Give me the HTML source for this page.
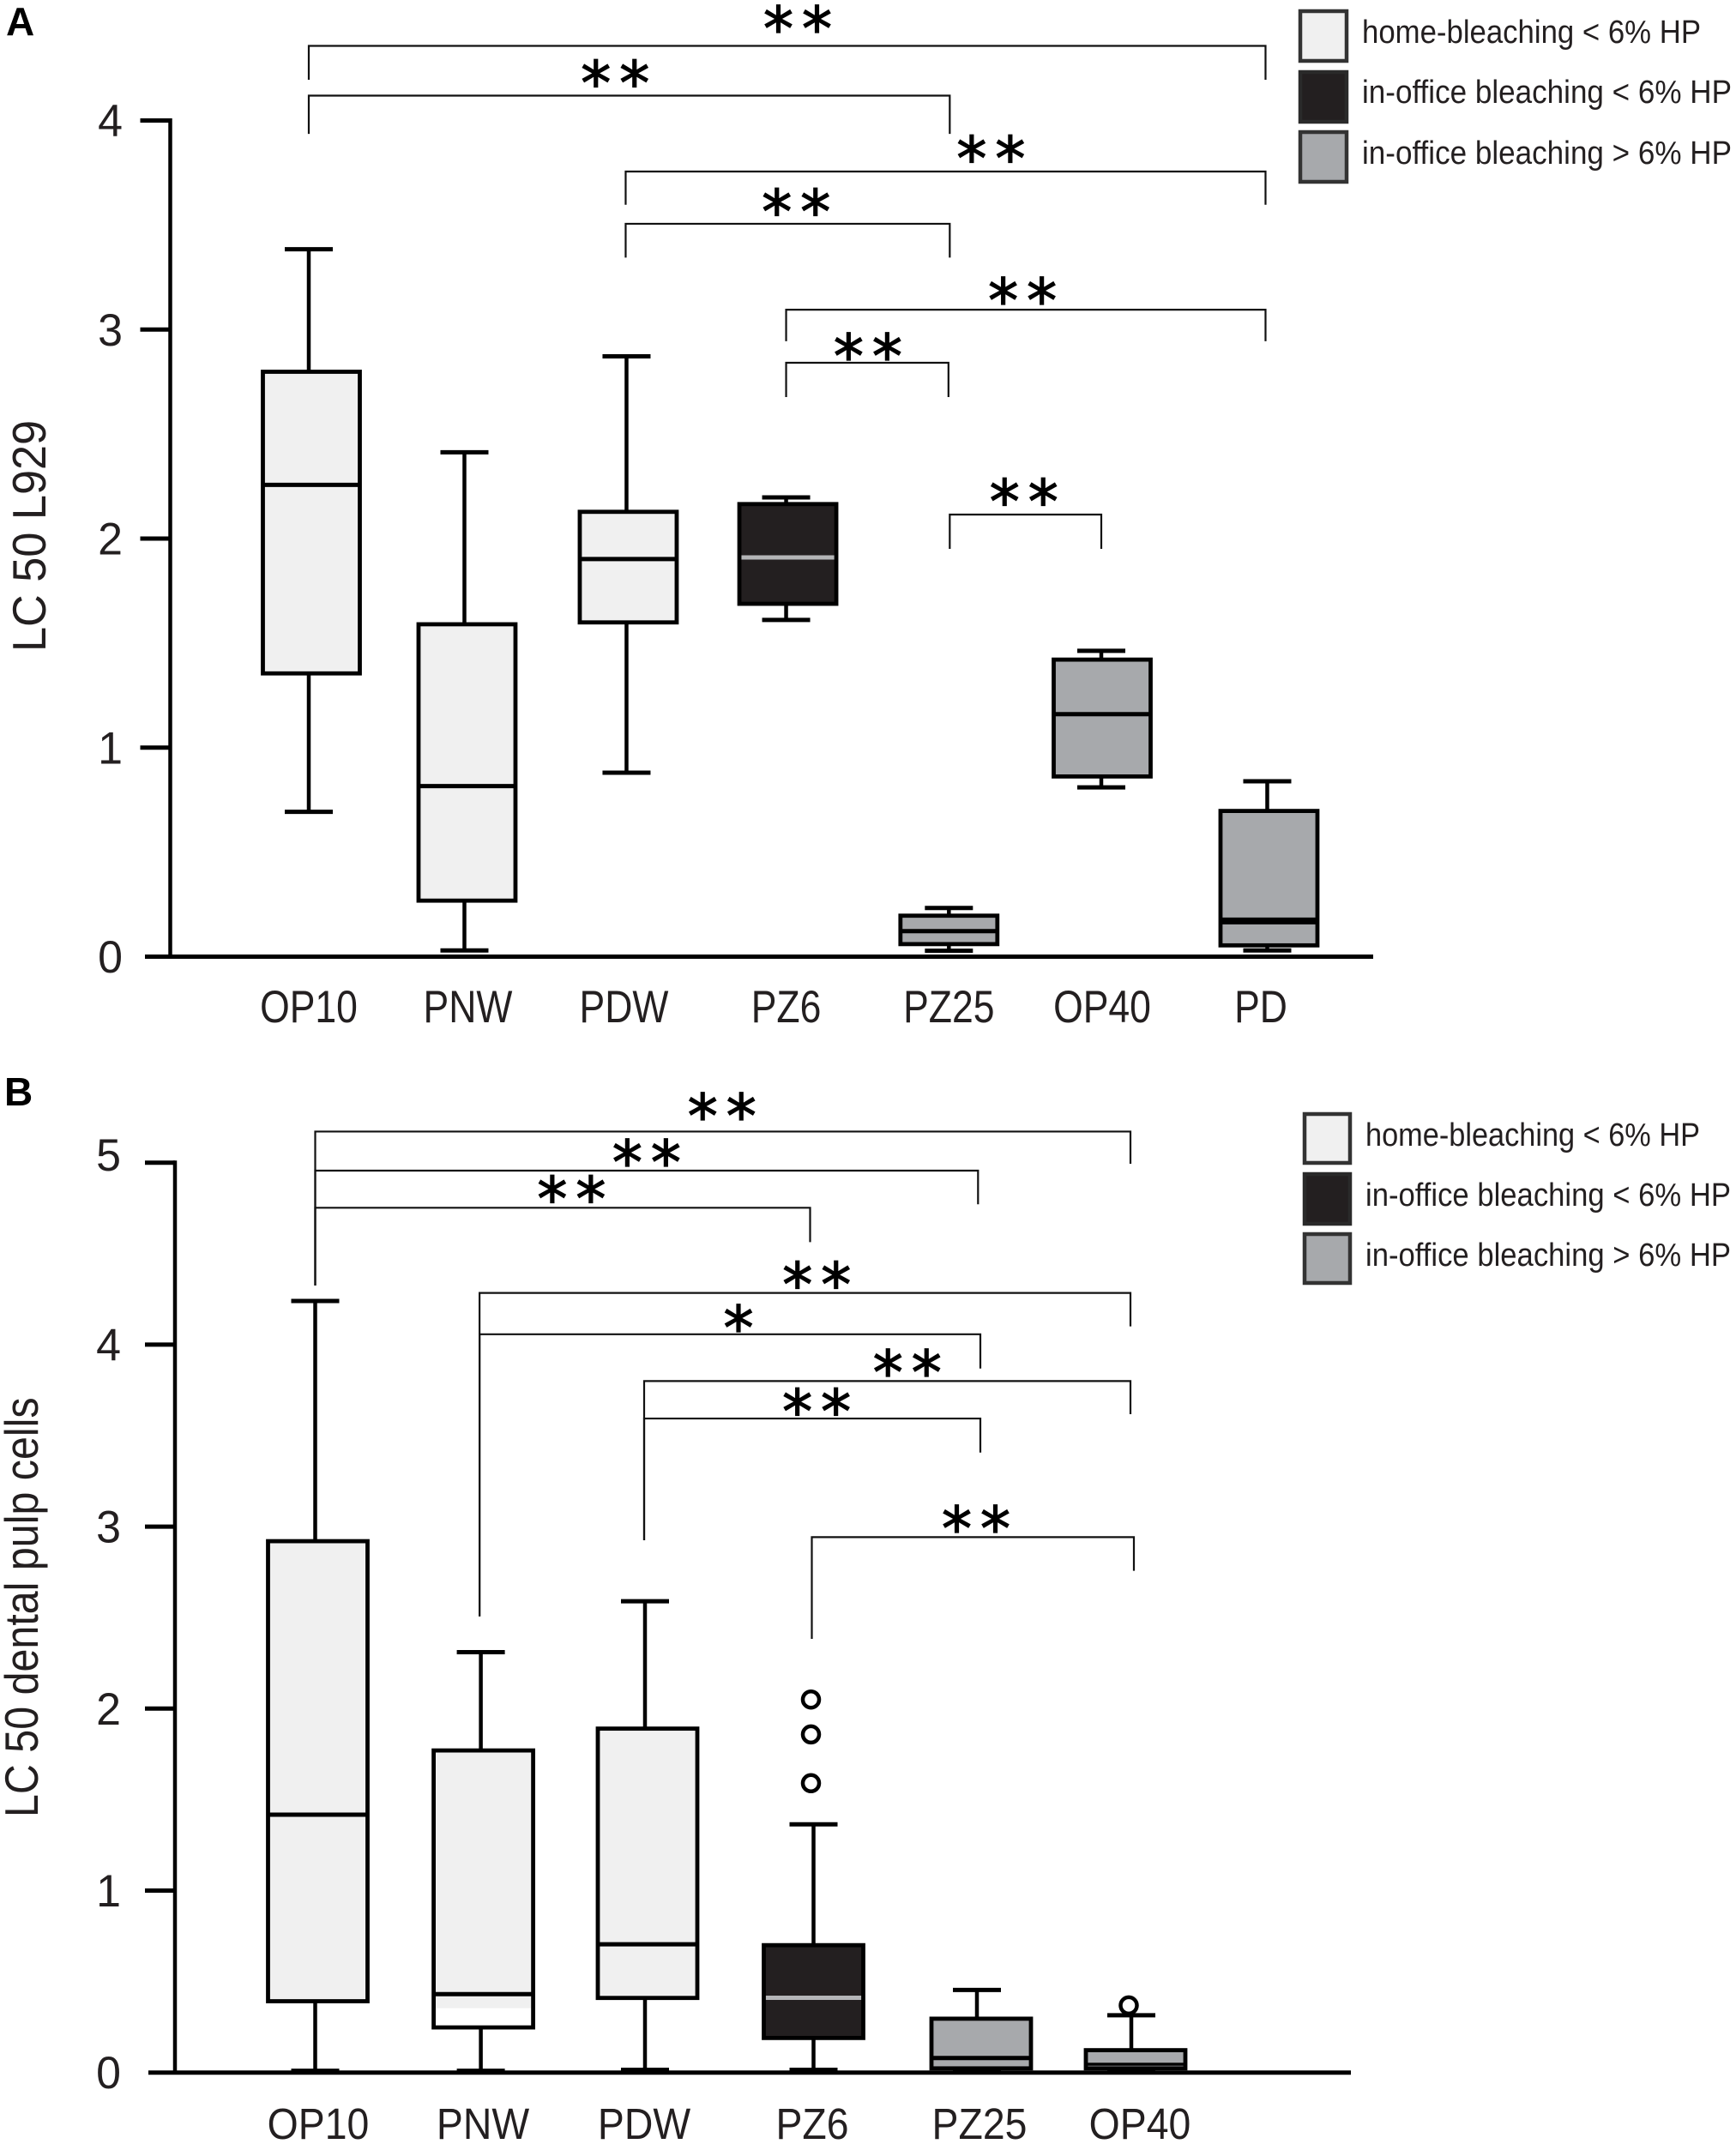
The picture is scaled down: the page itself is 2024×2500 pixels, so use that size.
<!DOCTYPE html>
<html lang="en">
<head>
<meta charset="utf-8">
<title>LC 50 box plots</title>
<style>
html,body{margin:0;padding:0;background:#fff;}
svg{display:block;}
text{font-family:"Liberation Sans",sans-serif;fill:#231f20;}
</style>
</head>
<body>
<svg id="chart" xmlns="http://www.w3.org/2000/svg" width="2024" height="2500" viewBox="0 0 2024 2500">
  <rect x="0" y="0" width="2024" height="2500" fill="#ffffff"/>
  <text x="7" y="41" font-size="46" font-weight="700" style="fill:#000">A</text>
  <text x="5" y="1289" font-size="46" font-weight="700" style="fill:#000">B</text>
  <text transform="translate(53,760) rotate(-90) scale(0.95,1)" font-size="55">LC 50 L929</text>
  <text transform="translate(44,2119) rotate(-90) scale(0.88,1)" font-size="55">LC 50 dental pulp cells</text>

  <g>
    <g>
      <rect x="1516" y="13" width="54" height="58" fill="#f0f0f0" stroke="#333" stroke-width="4.5"/>
      <text x="1588" y="50" font-size="38" textLength="395" lengthAdjust="spacingAndGlyphs">home-bleaching &lt; 6% HP</text>
    </g>
    <g>
      <rect x="1516" y="84" width="54" height="58" fill="#231f20" stroke="#2a2a2a" stroke-width="4.5"/>
      <text x="1588" y="120" font-size="38" textLength="431" lengthAdjust="spacingAndGlyphs">in-office bleaching &lt; 6% HP</text>
    </g>
    <g>
      <rect x="1516" y="154" width="54" height="58" fill="#a7a9ac" stroke="#333" stroke-width="4.5"/>
      <text x="1588" y="191" font-size="38" textLength="431" lengthAdjust="spacingAndGlyphs">in-office bleaching &gt; 6% HP</text>
    </g>
  </g>

  <g>
    <g>
      <rect x="1521" y="1299" width="53" height="57" fill="#f0f0f0" stroke="#333" stroke-width="4.5"/>
      <text x="1592" y="1336" font-size="38" textLength="390" lengthAdjust="spacingAndGlyphs">home-bleaching &lt; 6% HP</text>
    </g>
    <g>
      <rect x="1521" y="1369" width="53" height="58" fill="#231f20" stroke="#2a2a2a" stroke-width="4.5"/>
      <text x="1592" y="1406" font-size="38" textLength="426" lengthAdjust="spacingAndGlyphs">in-office bleaching &lt; 6% HP</text>
    </g>
    <g>
      <rect x="1521" y="1439" width="53" height="57" fill="#a7a9ac" stroke="#333" stroke-width="4.5"/>
      <text x="1592" y="1476" font-size="38" textLength="426" lengthAdjust="spacingAndGlyphs">in-office bleaching &gt; 6% HP</text>
    </g>
  </g>
</svg>

<script>
// ---------- Panel A data ----------
const categoriesA = ['OP10','PNW','PDW','PZ6','PZ25','OP40','PD'];
const groupsA = ['home','home','home','officeLow','officeHigh','officeHigh','officeHigh'];
const whiskerHighA = [3.384,2.413,2.872,2.197,0.233,1.463,0.839];
const q3A = [2.798,1.59,2.128,2.165,0.196,1.421,0.697];
const medianA = [2.257,0.816,1.902,1.91,0.122,1.16,0.171];
const q1A = [1.355,0.268,1.599,1.688,0.06,0.862,0.054];
const whiskerLowA = [0.693,0.03,0.88,1.611,0.028,0.81,0.03];
const ticksA = [0,1,2,3,4];
const bracketFromA = [0,0,2,2,3,3,4];
const bracketToA = [6,4,6,4,6,4,5];
const bracketLevelA = [4.357,4.119,3.756,3.506,3.095,2.841,2.115];
const bracketLeftEndA = [4.195,3.936,3.597,3.344,2.944,2.677,1.951];
const bracketRightEndA = [4.195,3.936,3.597,3.344,2.944,2.677,1.951];
const bracketStarsA = ['**','**','**','**','**','**','**'];
const bracketStarLevelA = [4.486,4.225,3.865,3.61,3.186,2.919,2.224];
const bracketStarPosA = [0.511,0.478,0.571,0.526,0.493,0.504,0.489];

// ---------- Panel B data ----------
const categoriesB = ['OP10','PNW','PDW','PZ6','PZ25','OP40'];
const groupsB = ['home','home','home','officeLow','officeHigh','officeHigh'];
const whiskerHighB = [4.24,2.31,2.59,1.364,0.454,0.315];
const q3B = [2.92,1.77,1.89,0.70,0.296,0.123];
const medianB = [1.417,0.431,0.705,0.411,0.08,0.046];
const q1B = [0.392,0.248,0.41,0.19,0.023,0.023];
const whiskerLowB = [0.01,0.01,0.015,0.015,0.012,0.012];
const outlierCatB = [3,3,3,5];
const outlierValB = [2.05,1.858,1.59,0.369];
const ticksB = [0,1,2,3,4,5];
const bracketFromB = [0,0,0,1,1,2,2,3];
const bracketToB = [5,4,3,5,4,5,4,5];
const bracketLevelB = [5.171,4.956,4.752,4.284,4.057,3.80,3.594,2.942];
const bracketLeftEndB = [4.325,4.325,4.325,2.507,2.507,2.925,2.925,2.383];
const bracketRightEndB = [4.994,4.771,4.563,4.10,3.869,3.618,3.407,2.757];
const bracketStarsB = ['**','**','**','**','*','**','**','**'];
const bracketStarLevelB = [5.31,5.055,4.854,4.383,4.146,3.901,3.686,3.043];
const bracketStarPosB = [0.499,0.50,0.518,0.518,0.517,0.541,0.513,0.51];

// ---------- Styling and layout constants ----------
const fills = {home:'#f0f0f0', officeLow:'#231f20', officeHigh:'#a7a9ac'};
const medianColors = {home:'#000000', officeLow:'#b4b5b7', officeHigh:'#000000'};
const NS = 'http://www.w3.org/2000/svg';
const svg = document.getElementById('chart');

function make(tag, attrs, parent){
  const node = document.createElementNS(NS, tag);
  for (const k in attrs) node.setAttribute(k, attrs[k]);
  parent.appendChild(node);
  return node;
}

function drawPanel(p){
  const y = v => p.y0 - v * p.yUnit;
  const x = i => p.x0 + i * p.xStep + p.xNudge[i];
  const wx = i => x(i) + p.whiskerNudge[i];
  const root = make('g', {}, svg);
  
  

  // brackets
  p.bFrom.forEach((from, k) => {
    const g = make('g', {}, root);
    
    
    const xa = wx(from) + p.bLeftShift[k], xb = wx(p.bTo[k]) + p.bRightShift[k];
    const d = 'M' + xa + ' ' + y(p.bLeft[k]) + 'V' + y(p.bLevel[k]) + 'H' + xb + 'V' + y(p.bRight[k]);
    const path = make('path', {d:d, fill:'none', stroke:'#111', 'stroke-width':2.2}, g);
    
    
    const star = make('text', {
      x: xa + (xb - xa) * p.bStarPos[k] + 5,
      y: y(p.bStarLevel[k]) + 36,
      'text-anchor':'middle', 'font-size':70, 'letter-spacing':10,
      stroke:'#000', 'stroke-width':1.3,
      style:'font-family:"DejaVu Sans",sans-serif;fill:#000'
    }, g);
    
    
    star.textContent = p.bStars[k];
  });

  // boxes
  p.categories.forEach((c, i) => {
    const g = make('g', {}, root);
    
    
    const cx = x(i), w = wx(i), hw = p.boxHalf, cap = 28;
    const whisk = make('path', {
      d:'M' + w + ' ' + y(p.wHigh[i]) + 'V' + y(p.q3[i]) + 'M' + w + ' ' + y(p.q1[i]) + 'V' + y(p.wLow[i]),
      fill:'none', stroke:'#000', 'stroke-width':4.5
    }, g);
    
    
    const caps = make('path', {
      d:'M' + (w - cap) + ' ' + y(p.wHigh[i]) + 'h' + (2 * cap) + 'M' + (w - cap) + ' ' + y(p.wLow[i]) + 'h' + (2 * cap),
      fill:'none', stroke:'#000', 'stroke-width':5
    }, g);
    
    
    const boxBottom = p.fillFloor[i] === null ? p.q1[i] : p.fillFloor[i];
    const white = make('rect', {x:cx - hw, y:y(p.q3[i]), width:2 * hw, height:y(p.q1[i]) - y(p.q3[i]), fill:'#fff'}, g);
    
    
    const fill = make('rect', {x:cx - hw, y:y(p.q3[i]), width:2 * hw, height:y(boxBottom) - y(p.q3[i]), fill:fills[p.groups[i]]}, g);
    
    
    const mid = make('line', {x1:cx - hw, x2:cx + hw, y1:y(p.median[i]), y2:y(p.median[i]), stroke:medianColors[p.groups[i]], 'stroke-width':p.medianW[i]}, g);
    
    
    const outline = make('rect', {x:cx - hw, y:y(p.q3[i]), width:2 * hw, height:y(p.q1[i]) - y(p.q3[i]), fill:'none', stroke:'#000', 'stroke-width':4.8}, g);
    
    
    const lab = make('text', {
      transform:'translate(' + (cx + p.labelNudge[i]) + ',' + p.labelY + ') scale(' + p.labelScale + ',1)',
      'text-anchor':'middle', 'font-size':p.labelSize
    }, root);
    
    
    lab.textContent = c;
  });

  // outliers
  p.outCat.forEach((ci, k) => {
    const o = make('circle', {cx:wx(ci) - p.outlierShift, cy:y(p.outVal[k]), r:9.5, fill:'#fff', stroke:'#000', 'stroke-width':4.5}, root);
    
    
  });

  // axes
  const top = p.ticks[p.ticks.length - 1];
  const yAxis = make('line', {x1:p.axisX, x2:p.axisX, y1:y(top) - 2.5, y2:y(0), stroke:'#000', 'stroke-width':4.5}, root);
  
  
  const xAxis = make('line', {x1:p.xAxisFrom, x2:p.xAxisTo, y1:y(0), y2:y(0), stroke:'#000', 'stroke-width':5}, root);
  
  
  p.ticks.forEach(t => {
    if (t > 0) {
      const tk = make('line', {x1:p.axisX - 35, x2:p.axisX, y1:y(t), y2:y(t), stroke:'#000', 'stroke-width':5}, root);
      
      
    }
    const tl = make('text', {
      transform:'translate(' + p.tickLabelX + ',' + (y(t) + 18.5 - (t === 5 ? 9 : 0)) + ') scale(0.98,1)',
      'text-anchor':'end', 'font-size':53
    }, root);
    
    
    tl.textContent = String(t);
  });
}

drawPanel({
  id:'a', categories:categoriesA, groups:groupsA,
  wHigh:whiskerHighA, q3:q3A, median:medianA, q1:q1A, wLow:whiskerLowA,
  ticks:ticksA, outCat:[], outVal:[],
  bFrom:bracketFromA, bTo:bracketToA, bLevel:bracketLevelA, bLeft:bracketLeftEndA, bRight:bracketRightEndA,
  bStars:bracketStarsA, bStarLevel:bracketStarLevelA, bStarPos:bracketStarPosA,
  bLeftShift:[0,0,-1,-1,0,0,1], bRightShift:[-2,1,-2,1,-2,-0.5,0],
  y0:1115.5, yUnit:243.75, x0:363, xStep:186.08,
  xNudge:[0,-4.6,-2.7,-2.7,-1,-8.4,0], whiskerNudge:[-3,-3,-2,-2,0,-1,-2],
  labelNudge:[-3,1,-5,-2,0,0,-9.5], medianW:[5,5,5,5,5,5,8],
  fillFloor:[null,null,null,null,null,null,null],
  boxHalf:56.5, axisX:198.5, xAxisFrom:169, xAxisTo:1601, tickLabelX:143,
  labelY:1192, labelSize:53, labelScale:0.84, outlierShift:0
});

drawPanel({
  id:'b', categories:categoriesB, groups:groupsB,
  wHigh:whiskerHighB, q3:q3B, median:medianB, q1:q1B, wLow:whiskerLowB,
  ticks:ticksB, outCat:outlierCatB, outVal:outlierValB,
  bFrom:bracketFromB, bTo:bracketToB, bLevel:bracketLevelB, bLeft:bracketLeftEndB, bRight:bracketRightEndB,
  bStars:bracketStarsB, bStarLevel:bracketStarLevelB, bStarPos:bracketStarPosB,
  bLeftShift:[0,0,0,-1.5,-1.5,-1,-1,-2], bRightShift:[-1,1.3,-4,-1,4,-1,4,3],
  y0:2416.7, yUnit:212.2, x0:370.5, xStep:190.7,
  xNudge:[0,2.4,3.1,5.9,10.7,0], whiskerNudge:[-3,-3,-3,0,-5,-5],
  labelNudge:[0.5,-0.6,-4,-1.5,-2,5], medianW:[5,5,5,5,5,3.5],
  fillFloor:[null,0.354,null,null,null,null],
  boxHalf:58, axisX:204, xAxisFrom:173, xAxisTo:1575, tickLabelX:141,
  labelY:2494, labelSize:51, labelScale:0.91, outlierShift:3
});
</script>
</body>
</html>
